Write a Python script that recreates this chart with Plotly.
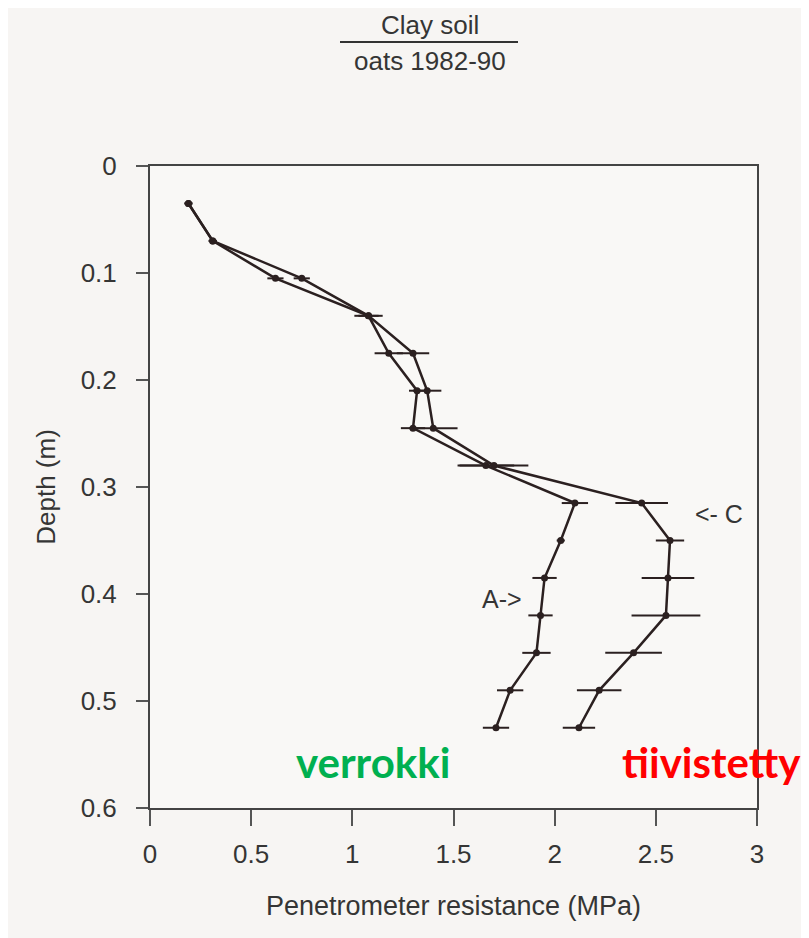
import plotly.graph_objects as go

depth = [0.035, 0.07, 0.105, 0.14, 0.175, 0.21, 0.245, 0.28, 0.315, 0.35, 0.385, 0.42, 0.455, 0.49, 0.525]
res_A = [0.19, 0.31, 0.62, 1.08, 1.18, 1.32, 1.30, 1.66, 2.10, 2.03, 1.95, 1.93, 1.91, 1.78, 1.71]
err_A = [0.02, 0.02, 0.04, 0.05, 0.07, 0.04, 0.06, 0.14, 0.065, 0.02, 0.06, 0.06, 0.07, 0.065, 0.065]
res_C = [0.19, 0.31, 0.75, 1.08, 1.30, 1.37, 1.40, 1.70, 2.43, 2.57, 2.56, 2.55, 2.39, 2.22, 2.12]
err_C = [0.02, 0.02, 0.04, 0.07, 0.08, 0.07, 0.12, 0.17, 0.13, 0.07, 0.13, 0.17, 0.14, 0.11, 0.08]

x_ticks = [0, 0.5, 1, 1.5, 2, 2.5, 3]
x_labels = ["0", "0.5", "1", "1.5", "2", "2.5", "3"]
y_ticks = [0, 0.1, 0.2, 0.3, 0.4, 0.5, 0.6]
y_labels = ["0", "0.1", "0.2", "0.3", "0.4", "0.5", "0.6"]

ink = "#2b2020"
txt = "#353535"
font_main = "Liberation Sans, Arial, sans-serif"

# page has an 8px body margin; figure sized to fit the window
W, H = 801, 930
L, T, R, B = 142, 158, 52, 130
PW, PH = W - L - R, H - T - B


def px(xp):
    return (xp - 8 - L) / PW


def py(yp):
    return (H - B - (yp - 8)) / PH


fig = go.Figure()
for name, xs, es in [("A", res_A, err_A), ("C", res_C, err_C)]:
    fig.add_trace(go.Scatter(
        x=xs, y=depth, mode="lines+markers", name=name,
        line=dict(color=ink, width=2.5),
        marker=dict(color=ink, size=7),
        error_x=dict(type="data", array=es, visible=True, color=ink, thickness=2, width=0),
        showlegend=False,
    ))

fig.update_layout(
    width=W, height=H,
    margin=dict(l=L, r=R, t=T, b=B),
    paper_bgcolor="#f7f5f3",
    plot_bgcolor="#f9f8f6",
    font=dict(family=font_main, color=txt, size=24),
    xaxis=dict(
        range=[0, 3], tickvals=x_ticks, ticktext=x_labels,
        showgrid=False, zeroline=False,
        showline=True, linecolor="#444", linewidth=2, mirror=True,
        ticks="outside", ticklen=16, tickwidth=1.5, tickcolor="#555",
        ticklabelstandoff=6,
        tickfont=dict(size=26, family=font_main, color=txt),
        title=dict(text="Penetrometer resistance (MPa)", font=dict(size=27, family=font_main, color=txt), standoff=28),
    ),
    yaxis=dict(
        range=[0.6, 0], tickvals=y_ticks, ticktext=y_labels,
        showgrid=False, zeroline=False,
        showline=True, linecolor="#444", linewidth=2, mirror=True,
        ticks="outside", ticklen=12, tickwidth=1.5, tickcolor="#555",
        ticklabelstandoff=14,
        tickfont=dict(size=26, family=font_main, color=txt),
        title=dict(text="Depth (m)", font=dict(size=26, family=font_main, color=txt), standoff=18),
    ),
)

annotations = [
    dict(text="Clay soil", x=px(430), y=py(25), xref="paper", yref="paper",
         xanchor="center", yanchor="middle",
         showarrow=False, font=dict(size=26, family=font_main, color=txt)),
    dict(text="oats 1982-90", x=px(430), y=py(61), xref="paper", yref="paper",
         xanchor="center", yanchor="middle",
         showarrow=False, font=dict(size=26, family=font_main, color=txt)),
    dict(text="<- C", x=2.81, y=0.325, xref="x", yref="y", showarrow=False,
         xanchor="center", yanchor="middle",
         font=dict(size=25, family=font_main, color=txt)),
    dict(text="A->", x=1.74, y=0.405, xref="x", yref="y", showarrow=False,
         xanchor="center", yanchor="middle",
         font=dict(size=25, family=font_main, color=txt)),
    dict(text="<b>verrokki</b>", x=1.1, y=0.557, xref="x", yref="y", showarrow=False,
         xanchor="center", yanchor="middle",
         font=dict(size=42, family="Lato", color="#00b050")),
    dict(text="<b>tiivistetty</b>", x=2.775, y=0.557, xref="x", yref="y", showarrow=False,
         xanchor="center", yanchor="middle",
         font=dict(size=42, family="Lato", color="#ff0000")),
]
fig.update_layout(annotations=annotations)

fig.add_shape(type="line", xref="paper", yref="paper",
              x0=px(340), x1=px(518), y0=py(42), y1=py(42),
              line=dict(color="#333", width=2))

fig.write_html("out.html")
